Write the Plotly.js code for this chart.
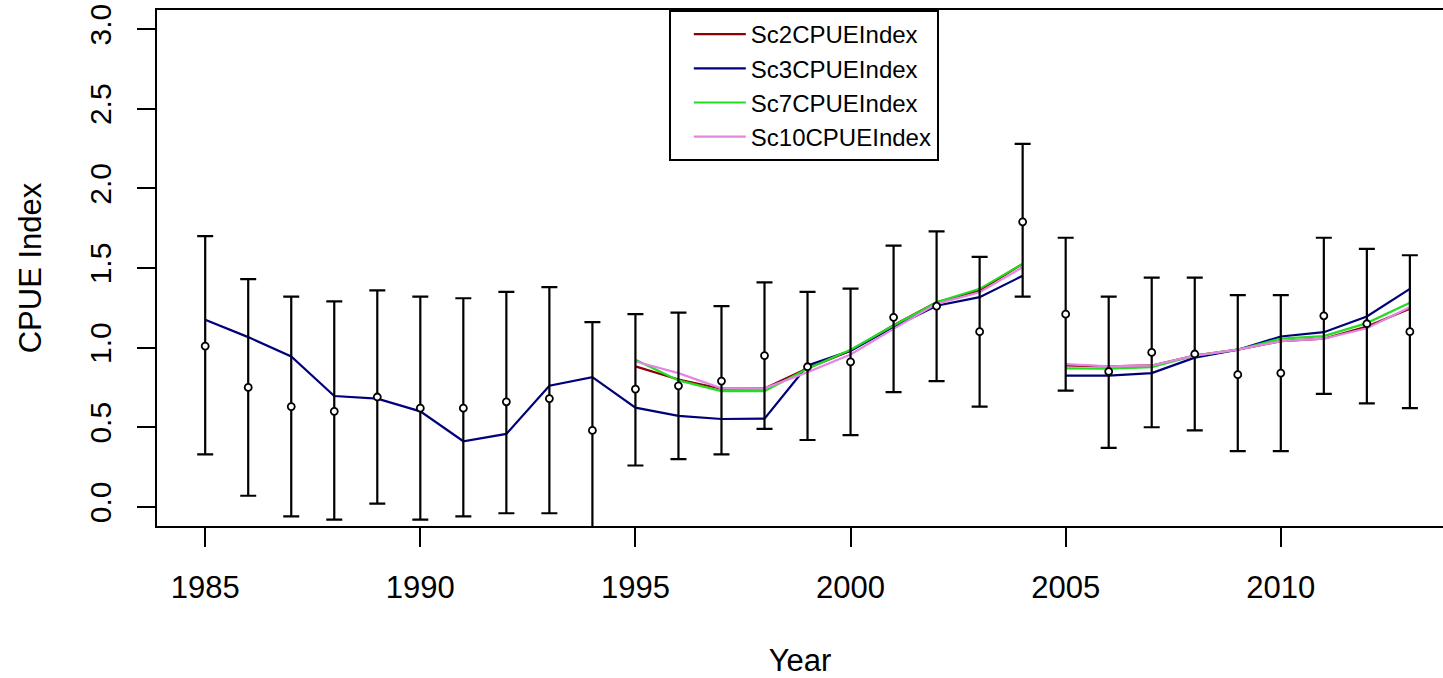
<!DOCTYPE html>
<html>
<head>
<meta charset="utf-8">
<script src="https://cdn.plot.ly/plotly-3.0.1.min.js"></script>
<style>html,body{margin:0;padding:0;background:#fff;}#chart{width:1443px;height:678px;}</style>
</head>
<body>
<div id="chart"></div>
<script>
const years = [1985,1986,1987,1988,1989,1990,1991,1992,1993,1994,1995,1996,1997,1998,1999,2000,2001,2002,2003,2004,2005,2006,2007,2008,2009,2010,2011,2012,2013];
const observed = [1.01,0.75,0.63,0.60,0.69,0.62,0.62,0.66,0.68,0.48,0.74,0.76,0.79,0.95,0.88,0.91,1.19,1.26,1.10,1.79,1.21,0.85,0.97,0.96,0.83,0.84,1.20,1.15,1.10];
const upperCI = [1.70,1.43,1.32,1.29,1.36,1.32,1.31,1.35,1.38,1.16,1.21,1.22,1.26,1.41,1.35,1.37,1.64,1.73,1.57,2.28,1.69,1.32,1.44,1.44,1.33,1.33,1.69,1.62,1.58];
const lowerCI = [0.33,0.07,-0.06,-0.08,0.02,-0.08,-0.06,-0.04,-0.04,-0.21,0.26,0.30,0.33,0.49,0.42,0.45,0.72,0.79,0.63,1.32,0.73,0.37,0.50,0.48,0.35,0.35,0.71,0.65,0.62];
const sc2 = [null,null,null,null,null,null,null,null,null,null,0.882,0.800,0.742,0.744,0.870,0.980,1.140,1.285,1.359,1.526,0.888,0.882,0.888,0.950,0.987,1.041,1.056,1.133,1.244];
const sc3 = [1.175,1.066,0.945,0.696,0.680,0.600,0.412,0.458,0.761,0.815,0.623,0.571,0.552,0.554,0.888,0.980,1.130,1.263,1.317,1.451,0.824,0.824,0.840,0.937,0.987,1.070,1.097,1.196,1.369];
const sc7 = [null,null,null,null,null,null,null,null,null,null,0.924,0.794,0.727,0.727,0.868,0.987,1.139,1.285,1.369,1.526,0.870,0.868,0.878,0.950,0.987,1.056,1.072,1.154,1.282];
const sc10 = [null,null,null,null,null,null,null,null,null,null,0.913,0.840,0.744,0.744,0.846,0.957,1.118,1.275,1.348,1.505,0.897,0.882,0.888,0.950,0.987,1.041,1.056,1.122,1.254];
const seriesNames = ["Sc2CPUEIndex","Sc3CPUEIndex","Sc7CPUEIndex","Sc10CPUEIndex"];
const seriesColors = ["#8B0000","#00007A","#22DD22","#E485E4"];
const xTicks = [1985,1990,1995,2000,2005,2010];
const yTicks = [0,0.5,1,1.5,2,2.5,3];
const yTickText = ["0.0","0.5","1.0","1.5","2.0","2.5","3.0"];

const FONT = "Liberation Sans, Arial, sans-serif";
const breakYear = 2004; // gap between 2004 and 2005
const seriesVals = [sc2, sc3, sc7, sc10];
const traces = [];
seriesVals.forEach((vals, i) => {
  const seg1x = [], seg1y = [], seg2x = [], seg2y = [];
  years.forEach((yr, k) => {
    if (yr <= breakYear) { seg1x.push(yr); seg1y.push(vals[k]); }
    else { seg2x.push(yr); seg2y.push(vals[k]); }
  });
  traces.push({x: seg1x, y: seg1y, type: 'scatter', mode: 'lines', name: seriesNames[i],
    legendgroup: seriesNames[i], line: {color: seriesColors[i], width: 2.2}, hoverinfo: 'skip'});
  traces.push({x: seg2x, y: seg2y, type: 'scatter', mode: 'lines', name: seriesNames[i],
    legendgroup: seriesNames[i], showlegend: false, line: {color: seriesColors[i], width: 2.2}, hoverinfo: 'skip'});
});
traces.push({
  x: years, y: observed, type: 'scatter', mode: 'markers', showlegend: false,
  marker: {symbol: 'circle', size: 7, color: '#ffffff', line: {color: '#000000', width: 1.8}},
  error_y: {type: 'data', symmetric: false,
    array: upperCI.map((u, k) => u - observed[k]),
    arrayminus: lowerCI.map((l, k) => observed[k] - l),
    color: '#000000', thickness: 2.2, width: 8}
});

const layout = {
  width: 1443, height: 678,
  margin: {l: 157, r: 0, t: 10, b: 152},
  paper_bgcolor: '#ffffff', plot_bgcolor: '#ffffff',
  font: {family: FONT, color: '#000000', size: 31},
  showlegend: true,
  legend: {x: 0.398, xanchor: 'left', y: 1, yanchor: 'top',
    bordercolor: '#000000', borderwidth: 2, bgcolor: '#ffffff', tracegroupgap: 0,
    font: {family: FONT, size: 24, color: '#000000'}, indentation: 18, itemwidth: 52},
  xaxis: {range: [1983.88, 2013.77], tickvals: xTicks, ticks: 'outside', ticklen: 19, tickwidth: 2,
    tickcolor: '#000', showline: true, mirror: true, linecolor: '#000', linewidth: 2,
    showgrid: false, zeroline: false, tickfont: {size: 31}, ticklabelstandoff: 14,
    title: {text: 'Year', font: {size: 31}, standoff: 46}},
  yaxis: {range: [-0.12, 3.12], tickvals: yTicks, ticktext: yTickText, tickangle: -90,
    ticks: 'outside', ticklen: 18, tickwidth: 2, tickcolor: '#000', showline: true, mirror: false,
    linecolor: '#000', linewidth: 2, showgrid: false, zeroline: false, tickfont: {size: 30},
    ticklabelstandoff: 14,
    title: {text: 'CPUE Index', font: {size: 31}, standoff: 33}}
};
Plotly.newPlot('chart', traces, layout, {displayModeBar: false, staticPlot: true});
</script>
</body>
</html>
